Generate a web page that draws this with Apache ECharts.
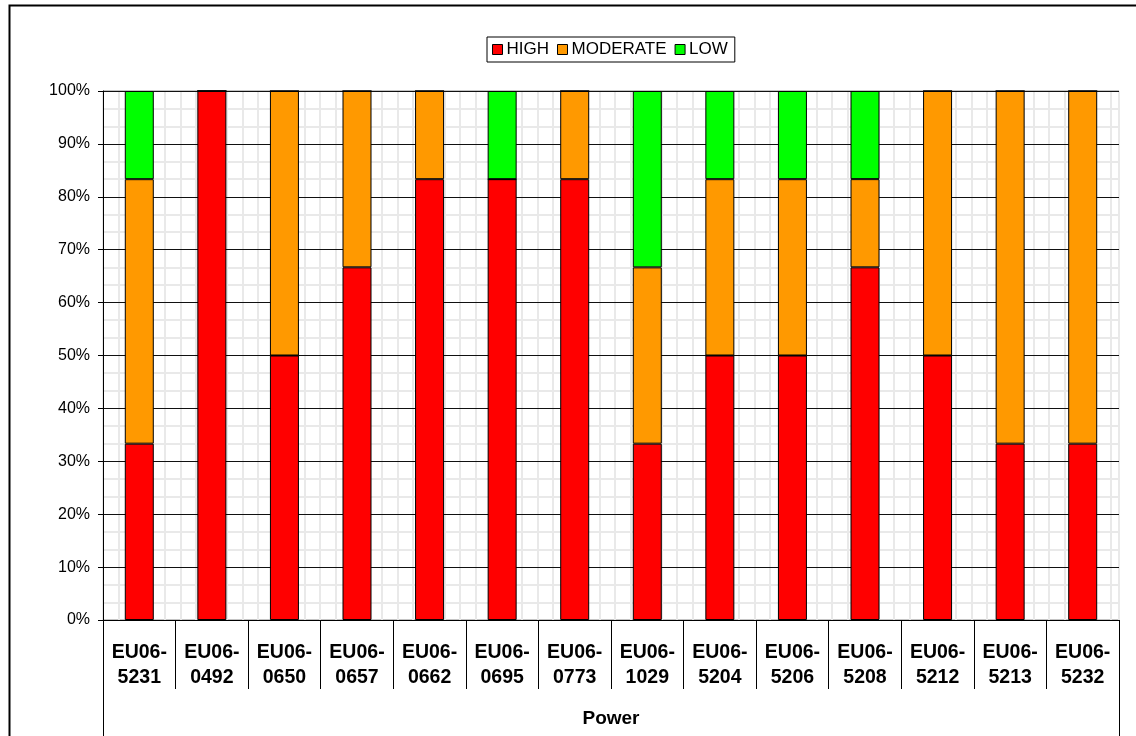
<!DOCTYPE html>
<html>
<head>
<meta charset="utf-8">
<script src="https://cdn.jsdelivr.net/npm/echarts@6/dist/echarts.min.js"></script>
<style>
html,body{margin:0;padding:0;background:#fff;}
#chart{width:1136px;height:736px;}
</style>
</head>
<body>
<div id="chart"></div>
<script>
const categories = ['EU06-5231','EU06-0492','EU06-0650','EU06-0657','EU06-0662','EU06-0695','EU06-0773','EU06-1029','EU06-5204','EU06-5206','EU06-5208','EU06-5212','EU06-5213','EU06-5232'];
const high     = [33.33, 100, 50, 66.67, 83.33, 83.33, 83.33, 33.33, 50, 50, 66.67, 50, 33.33, 33.33];
const moderate = [50, 0, 50, 33.33, 16.67, 0, 16.67, 33.33, 33.33, 33.33, 16.67, 50, 66.67, 66.67];
const low      = [16.67, 0, 0, 0, 0, 16.67, 0, 33.34, 16.67, 16.67, 16.66, 0, 0, 0];
const groupLabel = ['Power'];
const yTicks = [0,10,20,30,40,50,60,70,80,90,100];

const font = 'Liberation Sans, Arial, sans-serif';
const chart = echarts.init(document.getElementById('chart'));

function barSeries(name, data, color) {
  return {
    name: name, type: 'bar', stack: 'total', data: data,
    xAxisIndex: 0, yAxisIndex: 0,
    barWidth: 29,
    itemStyle: { color: color, borderColor: '#000', borderWidth: 1 },
    emphasis: { disabled: true }
  };
}

chart.setOption({
  animation: false,
  backgroundColor: '#fff',
  textStyle: { fontFamily: font },
  graphic: [{
    type: 'rect', left: 7, top: 3, z: 100, silent: true,
    shape: { width: 1140, height: 745 },
    style: { fill: 'none', stroke: '#000', lineWidth: 2 }
  }],
  legend: {
    left: 487, top: 37,
    orient: 'horizontal',
    data: ['HIGH','MODERATE','LOW'],
    icon: 'rect',
    itemWidth: 10, itemHeight: 10, itemGap: 8,
    padding: [4, 7, 4, 5],
    borderColor: '#000', borderWidth: 1,
    textStyle: { fontFamily: font, fontSize: 17, color: '#000', padding: [0,0,0,-1] },
    itemStyle: { borderColor: '#000', borderWidth: 1 }
  },
  grid: {
    left: 103, top: 91, right: 17, bottom: 116,
    show: true, borderColor: '#888', borderWidth: 1, backgroundColor: '#fff'
  },
  xAxis: [{
    type: 'category', data: categories, position: 'bottom',
    boundaryGap: true,
    axisLine: { show: true, lineStyle: { color: '#000', width: 1 } },
    axisTick: { show: true, interval: 0, length: 69, lineStyle: { color: '#000', width: 1 } },
    axisLabel: {
      interval: 0, margin: 20, color: '#000', fontFamily: font,
      fontSize: 19.5, fontWeight: 'bold', lineHeight: 25,
      formatter: function (v) { return v.replace('-', '-\n'); }
    },
    splitLine: { show: false }, z: 3
  }, {
    type: 'category', data: groupLabel, position: 'bottom',
    boundaryGap: true,
    axisLine: { show: false },
    axisTick: { show: true, length: 120, lineStyle: { color: '#000', width: 1 } },
    axisLabel: { margin: 88, color: '#000', fontFamily: font, fontSize: 19, fontWeight: 'bold', lineHeight: 22 },
    splitLine: { show: false }, z: 3
  }, {
    type: 'value', position: 'top', min: 0, max: 65.5, interval: 1,
    axisLine: { show: false }, axisTick: { show: false }, axisLabel: { show: false },
    splitLine: { show: true, lineStyle: { color: '#e9e9e9', width: 2 } },
    z: 0
  }],
  yAxis: [{
    type: 'value', min: yTicks[0], max: yTicks[yTicks.length - 1], interval: 10,
    axisLine: { show: true, lineStyle: { color: '#000', width: 1 } },
    axisTick: { show: true, length: 5, lineStyle: { color: '#000', width: 1 } },
    axisLabel: { margin: 13, color: '#000', fontFamily: font, fontSize: 16, formatter: '{value}%' },
    splitLine: { show: true, lineStyle: { color: '#111', width: 1 } },
    minorTick: { show: false, splitNumber: 3 },
    minorSplitLine: { show: true, lineStyle: { color: '#e9e9e9', width: 2 } },
    z: 1
  }],
  series: [
    barSeries('HIGH', high, '#FF0000'),
    barSeries('MODERATE', moderate, '#FF9900'),
    barSeries('LOW', low, '#00FF00')
  ]
});
</script>
</body>
</html>
